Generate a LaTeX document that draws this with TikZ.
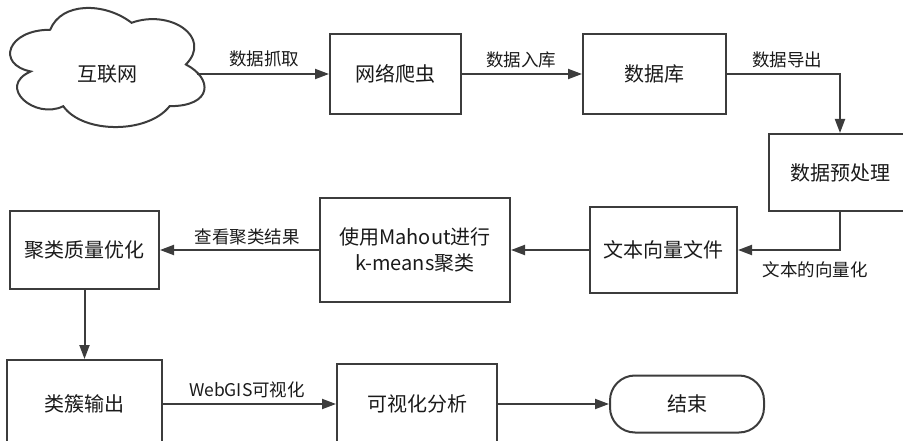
\documentclass[tikz,border=0pt]{standalone}
\usepackage{fontspec}
\setmainfont{Noto Sans CJK SC}
\usetikzlibrary{arrows.meta}
\definecolor{ln}{HTML}{3C3C3C}
\definecolor{tx}{HTML}{1A1A1A}
\tikzset{
  box/.style={draw=ln, line width=2pt, fill=white, inner sep=0pt, text=tx,
    font=\fontsize{20}{26}\selectfont, align=center},
  lbl/.style={inner sep=0pt, text=tx, font=\fontsize{17.5}{20}\selectfont},
  conn/.style={draw=ln, line width=2pt, -{Triangle[length=14pt, width=10pt]}},
}
\begin{document}
\begin{tikzpicture}[x=1pt, y=-1pt]
\useasboundingbox (0,0) rectangle (903,441);
% cloud
\draw[ln, line width=2pt, fill=white]
  (50.25,29.75) .. controls (6.85,29.75) and (-4,64.5) .. (30.72,71.45)
  .. controls (-4,86.74) and (35.06,120.1) .. (63.27,106.2)
  .. controls (82.8,134) and (147.9,134) .. (169.6,106.2)
  .. controls (213,106.2) and (213,78.4) .. (185.9,64.5)
  .. controls (213,36.7) and (169.6,8.9) .. (131.6,22.8)
  .. controls (104.5,1.95) and (61.1,1.95) .. (50.25,29.75) -- cycle;
\node[inner sep=0pt, minimum width=180pt, minimum height=100pt, text=tx,
  font=\fontsize{20}{26}\selectfont] (net) at (107,74) {互联网};
% boxes
\node[box, minimum width=131pt, minimum height=80pt] (crawl) at (395.5,74) {网络爬虫};
\node[box, minimum width=143pt, minimum height=80pt] (db) at (654.5,74) {数据库};
\node[box, minimum width=142pt, minimum height=77pt] (pre) at (840,172.5) {数据预处理};
\node[box, minimum width=147pt, minimum height=85pt] (vec) at (663.5,250) {文本向量文件};
\node[box, minimum width=190pt, minimum height=104pt] (mah) at (415,250) {使用Mahout进行\\k-means聚类};
\node[box, minimum width=149pt, minimum height=78pt] (opt) at (84.5,250) {聚类质量优化};
\node[box, minimum width=155pt, minimum height=88pt] (out) at (84.5,404) {类簇输出};
\node[box, minimum width=160pt, minimum height=80pt] (vis) at (417,404) {可视化分析};
\node[box, rounded corners=25pt, minimum width=154pt, minimum height=57pt] (end) at (687,404) {结束};
% connectors
\draw[conn] (net.east) -- (crawl.west);
\draw[conn] (crawl.east) -- (db.west);
\draw[conn] (db.east) -| (pre.north);
\draw[conn] (pre.south) |- (vec.east);
\draw[conn] (vec.west) -- (mah.east);
\draw[conn] (mah.west) -- (opt.east);
\draw[conn] (opt.south) -- (out.north);
\draw[conn] (out.east) -- (vis.west);
\draw[conn] (vis.east) -- (end.west);
% labels
\node[lbl] (l1) at (264,59) {数据抓取};
\node[lbl] (l2) at (521,60) {数据入库};
\node[lbl] (l3) at (787,60) {数据导出};
\node[lbl] (l4) at (815,270) {文本的向量化};
\node[lbl] (l5) at (247,237) {查看聚类结果};
\node[lbl] (l6) at (247,390) {WebGIS可视化};
\end{tikzpicture}
\end{document}
